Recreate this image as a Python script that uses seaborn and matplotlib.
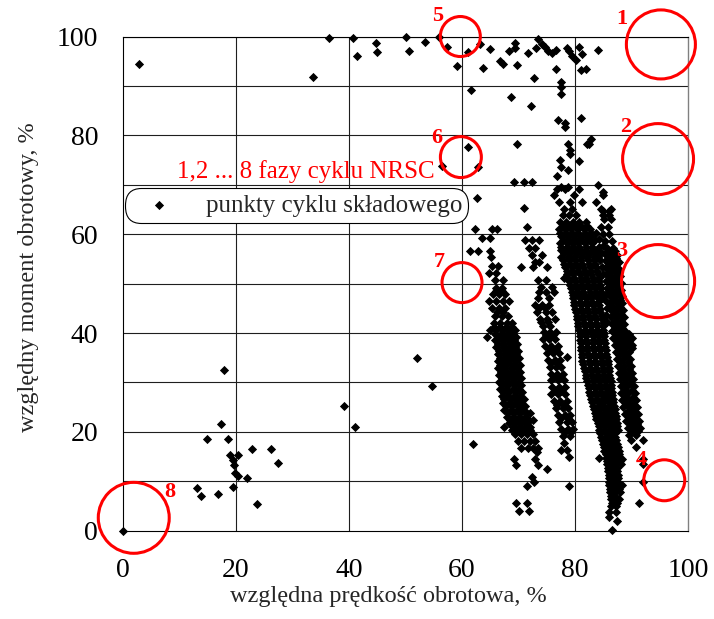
import matplotlib
matplotlib.use("Agg")
import matplotlib.pyplot as plt
import pandas as pd
import seaborn as sns

# ---------------- data (x = speed %, y = torque %) ----------------
upper_x = [2.8, 33.7, 36.4, 40.7, 41.5, 44.7, 45.0, 50.0, 50.7, 53.4, 56.0, 57.3, 59.2, 61.0,
           63.1, 63.7, 65.0, 66.8, 67.2, 68.3, 69.3, 69.4, 69.8, 71.7, 73.1, 73.5, 74.2, 74.7,
           75.3, 75.9, 76.7, 76.7, 78.5, 78.9, 79.5, 80.1, 80.7, 81.3, 81.0, 81.9, 84.0, 72.7]
upper_y = [94.5, 91.8, 99.6, 99.8, 96.1, 98.7, 96.8, 100.0, 97.1, 98.9, 99.9, 97.8, 94.1, 96.8,
           98.4, 93.7, 97.4, 95.1, 94.5, 97.0, 98.6, 97.6, 94.3, 96.7, 97.6, 99.5, 98.5, 97.8,
           97.1, 96.6, 97.3, 93.4, 97.7, 97.0, 96.1, 95.3, 97.9, 96.5, 93.3, 93.4, 97.2, 91.6]

mid_x = [61.6, 68.6, 72.2, 77.6, 77.6, 77.5, 77.0, 78.2, 78.3, 81.0, 69.8, 61.0, 62.8, 56.4,
         78.8, 79.1, 79.2, 77.3, 77.6, 78.8, 76.9, 80.7, 82.2, 82.8, 82.5, 69.2, 70.9, 72.4,
         77.6, 78.8, 84.0, 62.6, 70.9, 52.1, 54.7, 39.2, 41.1, 61.9, 78.9]
mid_y = [89.2, 87.8, 85.9, 90.7, 89.7, 88.3, 83.2, 82.6, 81.7, 83.6, 78.3, 77.6, 73.6, 73.7,
         78.3, 77.1, 76.3, 75.1, 73.6, 72.9, 71.7, 74.9, 78.3, 79.2, 78.2, 70.5, 70.5, 70.5,
         69.6, 69.6, 69.9, 67.3, 65.3, 35.0, 29.2, 25.2, 21.0, 17.6, 9.1]

low_x = [0.0, 13.1, 13.8, 14.8, 16.8, 17.4, 17.9, 18.6, 18.9, 19.5, 19.5, 19.6, 19.8, 20.3,
         20.3, 21.9, 22.9, 23.7, 26.2, 27.5]
low_y = [0.0, 8.6, 7.0, 18.6, 7.4, 21.5, 32.5, 18.6, 15.4, 14.2, 8.9, 13.2, 11.6, 15.3,
         11.0, 10.7, 16.5, 5.4, 16.5, 13.7]

# dense bands: rows of (torque, [speeds])
band_a = [
    (61.0, [62.3, 65.3, 66.2]), (59.2, [63.6, 65.0]), (56.6, [61.4, 62.9, 65.0]),
    (55.3, [65.2]), (53.6, [65.3, 66.4]), (52.2, [64.7, 66.0]), (50.7, [65.9, 67.3]),
    (49.2, [66.0, 67.0]), (48.5, [66.1, 67.1]), (47.8, [65.5, 66.6, 67.6]),
    (46.5, [64.8, 66.0, 67.2, 68.3]), (45.0, [65.3, 66.5, 67.6]), (44.2, [66.2, 67.3]),
    (43.5, [65.8, 67.0, 68.1]), (42.0, [65.6, 66.8, 67.9, 68.9]),
    (41.3, [65.6, 66.7, 67.8, 68.8]), (40.6, [65.0, 66.1, 67.2, 68.3, 69.3]),
    (39.9, [65.8, 66.9, 68.0, 69.0]), (39.2, [64.4, 66.3, 67.4, 68.5, 69.6]),
    (38.5, [65.9, 67.0, 68.1, 69.2]), (37.8, [66.4, 67.5, 68.6, 69.8]),
    (37.1, [66.1, 67.2, 68.3, 69.4]), (36.4, [66.6, 67.7, 68.8, 69.9]),
    (35.7, [66.3, 67.4, 68.5, 69.6]), (35.0, [66.8, 67.9, 69.0, 70.1]),
    (34.3, [66.3, 67.3, 68.4, 69.6]), (33.6, [66.7, 67.8, 69.0, 70.2]),
    (32.9, [66.4, 67.5, 68.6, 69.7]), (32.2, [66.9, 68.0, 69.1, 70.3]),
    (31.5, [66.5, 67.6, 68.7, 69.8]), (30.8, [67.0, 68.1, 69.3, 70.4]),
    (30.1, [66.6, 67.7, 68.8, 70.0]), (29.4, [67.1, 68.2, 69.4, 70.5]),
    (28.7, [66.7, 67.8, 69.0, 70.1]), (28.0, [67.3, 68.4, 69.6, 70.7]),
    (27.3, [67.0, 68.0, 69.2, 70.3]), (26.6, [67.5, 68.6, 69.8, 70.9]),
    (25.9, [67.2, 68.3, 69.4, 70.5]), (25.2, [67.8, 68.9, 70.0, 71.2]),
    (24.5, [67.5, 68.6, 69.7, 70.8]), (23.8, [68.1, 69.2, 70.3, 71.5, 72.1]),
    (23.1, [67.9, 69.0, 70.1, 71.2]), (22.4, [68.5, 69.6, 70.7, 71.8, 72.5]),
    (21.7, [68.4, 69.4, 70.5, 71.5]), (21.0, [67.4, 69.0, 70.1, 71.1, 72.1]),
    (20.3, [68.8, 69.9, 71.0, 72.0]), (19.6, [69.4, 70.5, 71.5, 72.6]),
    (18.2, [69.9, 71.0, 72.0, 73.0]), (16.8, [70.4, 71.6, 72.6, 73.4]), (16.0, [73.3]),
    (14.5, [69.2, 73.0]), (13.3, [69.5, 73.4]), (12.5, [75.1]), (10.8, [72.4]),
    (9.8, [72.7]), (9.1, [71.5]), (5.7, [69.5, 71.5]), (4.0, [70.0, 71.8]),
]

band_b = [
    (61.5, [71.5]), (58.8, [71.2, 72.4, 73.6]), (57.2, [71.8, 73.0]), (55.8, [72.4, 74.2]),
    (54.4, [73.0, 73.6]), (53.4, [70.4, 72.5, 75.1]), (51.1, [78.1]), (50.7, [73.5, 74.8]),
    (49.4, [74.0, 76.0]), (48.2, [73.6, 74.8, 76.3]), (47.0, [73.4, 75.4]),
    (45.6, [73.0, 74.2, 75.4]), (45.0, [73.6, 74.7]), (44.3, [73.2, 74.8, 76.0]),
    (42.9, [73.8, 75.0, 76.4]), (42.2, [74.0, 75.2]), (41.5, [74.3, 75.5]),
    (40.2, [74.5, 75.6, 76.7]), (39.5, [74.9, 76.1]), (38.8, [74.3, 75.4, 76.5]),
    (37.4, [74.6, 75.7, 77.0]), (36.7, [75.5, 76.6]), (36.0, [75.0, 76.1, 77.2]),
    (35.2, [78.6]), (34.6, [75.2, 76.4, 77.3]), (33.9, [75.8, 76.9]),
    (33.2, [75.5, 76.6, 77.6]), (31.8, [75.7, 76.9, 77.8]), (31.1, [76.2, 77.4]),
    (30.4, [75.8, 77.0, 78.0]), (29.0, [76.0, 77.2, 78.2]), (28.3, [76.5, 77.6]),
    (27.6, [75.8, 77.0, 78.3]), (26.2, [76.2, 77.4, 78.5]), (25.5, [76.9, 78.0]),
    (24.8, [76.6, 77.8, 78.8]), (23.4, [77.0, 78.2, 79.2]), (22.7, [77.6, 78.7]),
    (22.0, [77.2, 78.5, 79.5]), (20.6, [77.6, 78.8, 79.7]), (19.9, [78.2, 79.3]),
    (19.2, [77.9, 79.1]), (17.8, [78.1]), (16.4, [77.5, 78.5]), (14.9, [78.9]),
]

band_c = [
    (69.2, [76.9, 78.3, 80.7]), (68.0, [76.2, 79.8, 84.9]), (66.6, [77.2, 79.2, 81.3, 83.7]),
    (65.0, [78.0, 79.5, 84.6, 86.4]), (63.8, [77.8, 79.0, 80.2, 85.0, 86.1]),
    (62.5, [77.3, 78.4, 79.6, 80.7, 81.9]), (61.7, [77.8, 78.9, 80.0, 81.1, 82.2]),
    (61.0, [77.2, 78.3, 79.3, 80.5, 81.6, 82.6]),
    (60.3, [77.4, 78.4, 79.5, 80.6, 81.7, 82.8, 83.8]),
    (59.6, [77.5, 78.6, 79.7, 80.8, 81.9, 82.9]), (58.9, [77.9, 79.0, 80.1, 81.2, 82.4, 83.5]),
    (58.2, [77.4, 78.5, 79.5, 80.6, 81.8, 83.0]),
    (57.5, [77.5, 78.6, 79.6, 80.7, 81.9, 83.0, 84.3]),
    (56.8, [77.6, 78.7, 79.8, 80.9, 82.0, 83.1, 84.0]),
    (56.1, [78.0, 79.2, 80.4, 81.5, 82.6, 83.7, 84.6]),
    (55.4, [77.5, 78.8, 79.9, 81.0, 82.2, 83.3, 84.1]),
    (54.7, [77.8, 78.9, 80.0, 81.1, 82.3, 83.4, 84.4]),
    (54.0, [78.0, 79.1, 80.2, 81.3, 82.4, 83.5]),
    (53.3, [78.3, 79.4, 80.5, 81.5, 82.6, 83.7, 84.7]),
    (52.6, [78.5, 79.5, 80.6, 81.7, 82.8, 83.9]),
    (51.9, [78.6, 79.7, 80.8, 81.9, 82.9, 84.0, 84.9]),
    (51.2, [78.8, 79.9, 81.0, 82.0, 83.1, 84.2]), (50.5, [79.0, 80.0, 81.1, 82.1, 83.2, 84.3]),
    (49.8, [79.1, 80.2, 81.2, 82.3, 83.4, 84.4]), (49.1, [79.3, 80.3, 81.4, 82.4, 83.5, 84.6]),
    (48.4, [79.5, 80.5, 81.5, 82.6, 83.7, 84.6]), (47.7, [79.6, 80.6, 81.6, 82.7, 83.8, 84.9]),
    (47.0, [79.7, 80.8, 81.9, 82.9, 84.0, 84.8]), (46.3, [79.8, 80.9, 82.0, 83.0, 84.1]),
    (45.6, [79.9, 81.0, 82.1, 83.1, 84.2]), (44.9, [80.0, 81.1, 82.2, 83.3, 84.4]),
    (44.2, [80.2, 81.2, 82.3, 83.4, 84.5]), (43.5, [80.3, 81.4, 82.5, 83.6, 84.7]),
    (42.8, [80.4, 81.5, 82.6, 83.7, 84.8]), (42.1, [80.5, 81.6, 82.7, 83.8, 84.9]),
    (41.4, [80.6, 81.7, 82.8, 83.9, 85.0]), (40.7, [80.7, 81.8, 82.9, 83.9, 85.0]),
    (40.0, [80.8, 81.9, 83.0, 84.0, 85.1]), (39.3, [80.9, 82.0, 83.1, 84.1, 85.2]),
    (38.6, [80.9, 82.0, 83.1, 84.2, 85.2]), (37.9, [81.0, 82.1, 83.2, 84.3, 85.3]),
    (37.2, [81.0, 82.1, 83.2, 84.3, 85.3]), (36.5, [81.1, 82.2, 83.3, 84.4, 85.4]),
    (35.8, [81.2, 82.3, 83.4, 84.5, 85.5]), (35.1, [81.3, 82.4, 83.5, 84.6, 85.6]),
    (34.4, [81.3, 82.4, 83.5, 84.7, 85.8]), (33.7, [81.5, 82.6, 83.7, 84.8, 85.9]),
    (33.0, [81.6, 82.7, 83.8, 84.9, 86.0]), (32.3, [81.7, 82.8, 83.9, 85.0, 86.0]),
    (31.6, [81.9, 83.0, 84.0, 85.1, 86.1]), (30.9, [82.0, 83.1, 84.1, 85.2, 86.2]),
    (30.2, [82.2, 83.2, 84.3, 85.3, 86.3]), (29.5, [82.3, 83.4, 84.4, 85.4, 86.3]),
    (28.8, [82.4, 83.5, 84.5, 85.5, 86.4]), (28.1, [82.5, 83.6, 84.6, 85.6, 86.5]),
    (27.4, [82.6, 83.7, 84.7, 85.7, 86.6]), (26.7, [82.8, 83.9, 84.9, 85.9, 86.7]),
    (26.0, [83.0, 84.0, 85.0, 86.0, 86.8]), (25.3, [83.2, 84.2, 85.1, 86.1, 86.9]),
    (24.6, [83.3, 84.3, 85.2, 86.2, 87.0]), (23.9, [83.5, 84.5, 85.4, 86.3, 87.1]),
    (23.2, [83.7, 84.6, 85.5, 86.4, 87.2]), (22.5, [83.8, 84.8, 85.7, 86.6, 87.3]),
    (21.8, [84.0, 84.9, 85.8, 86.7, 87.4]), (21.1, [84.2, 85.1, 86.0, 86.8, 87.5]),
    (20.4, [84.3, 85.2, 86.0, 86.9, 87.6]), (19.7, [84.5, 85.4, 86.2, 87.0]),
    (19.0, [84.6, 85.5, 86.3, 87.1]), (18.3, [84.8, 85.7, 86.5, 87.3]),
    (17.6, [84.9, 85.8, 86.6, 87.4]), (16.9, [85.1, 86.0, 86.8, 87.6]),
    (16.2, [85.2, 86.1, 86.9, 87.7]), (15.5, [85.4, 86.2, 87.0, 87.8]),
    (14.8, [84.3, 85.5, 86.3, 87.1, 88.0]), (14.1, [85.6, 86.4, 87.2, 88.0]),
    (13.4, [85.7, 86.5, 87.3, 88.2]), (12.7, [85.8, 86.6, 87.4]),
    (12.0, [85.9, 86.7, 87.5]), (11.3, [86.0, 86.8, 87.6]), (10.6, [86.0, 86.8, 87.6]),
    (9.9, [86.1, 86.9, 87.6]), (9.2, [86.1, 86.9, 87.7, 88.4]), (8.5, [86.2, 87.0, 87.8]),
    (7.8, [86.2, 87.0, 88.0]), (7.1, [86.3, 87.1]), (6.4, [86.3, 87.1, 87.8]),
    (5.7, [86.5, 87.4]), (5.0, [86.3, 87.2]), (3.7, [86.1, 87.2]), (2.7, [86.1]),
    (2.0, [87.4]), (0.2, [86.5]),
]

# points joining bands C and D in the upper part
band_cd = [
    (59.0, [84.3]), (57.6, [85.0]), (56.2, [85.3]), (54.8, [85.4]), (53.4, [85.5]),
    (52.0, [85.6]), (50.6, [85.5]), (49.2, [85.6]), (47.8, [85.5]), (46.4, [85.4]),
    (45.0, [85.6]), (43.6, [85.5]), (42.2, [85.7]),
]

band_d = [
    (68.6, [84.9]), (64.6, [84.9, 86.1]), (63.0, [85.2, 86.4]), (61.5, [84.6, 85.8]),
    (60.0, [85.0, 86.1]), (58.6, [85.3, 86.5]), (57.2, [85.6, 86.8]), (56.5, [86.0, 87.1]),
    (55.8, [85.4, 86.5, 87.5]), (55.1, [86.1, 87.2]), (54.4, [85.6, 86.7, 87.7]),
    (53.7, [86.3, 87.3]), (53.0, [85.7, 86.9, 87.8]), (52.3, [86.4, 87.5]),
    (51.6, [85.9, 87.0, 88.0]), (50.9, [86.5, 87.6]), (50.2, [86.0, 87.1, 88.1]),
    (49.5, [86.6, 87.7]), (48.8, [86.1, 87.2, 88.2]), (48.1, [86.7, 87.8]),
    (47.4, [86.2, 87.3, 88.3]), (46.7, [86.8, 87.9]), (46.0, [86.2, 87.4, 88.4]),
    (45.3, [86.8, 88.0]), (44.6, [86.3, 87.5, 88.5]), (43.9, [86.9, 88.1]),
    (43.2, [86.4, 87.5, 88.6]), (42.5, [87.0, 88.2]), (41.8, [86.5, 87.6, 88.7]),
    (41.1, [87.1, 88.3]), (40.4, [86.6, 87.7, 88.9]), (39.7, [87.3, 88.5, 89.5]),
    (39.0, [86.8, 87.9, 89.0, 90.0]), (38.3, [87.5, 88.6, 89.6]),
    (37.6, [87.0, 88.1, 89.2, 90.1]), (36.9, [87.7, 88.9, 90.0]),
    (36.2, [87.2, 88.3, 89.5]), (35.5, [87.8, 89.1]), (34.8, [87.4, 88.5, 89.7]),
    (34.1, [88.0, 89.3]), (33.4, [87.6, 88.7, 89.9]), (32.7, [88.2, 89.5]),
    (32.0, [87.8, 88.9, 90.0]), (31.3, [88.5, 89.6]), (30.6, [88.0, 89.1, 90.2]),
    (29.9, [88.6, 89.8]), (29.2, [88.1, 89.2, 90.4]), (28.5, [88.8, 90.0]),
    (27.8, [88.2, 89.4, 90.6]), (27.1, [88.9, 90.2]), (26.4, [88.3, 89.5, 90.8]),
    (25.7, [89.1, 90.3]), (25.0, [88.5, 89.7, 90.9]), (24.3, [89.3, 90.5]),
    (23.6, [88.8, 89.9, 91.1]), (22.9, [89.6, 90.7]), (22.2, [89.1, 90.2, 91.3]),
    (21.5, [89.8, 90.9]), (20.8, [89.3, 90.4, 91.5]), (20.1, [90.0, 91.2]),
    (19.4, [89.6, 90.8]), (18.3, [89.9, 92.0]), (16.9, [90.8]), (14.5, [88.4, 92.0]),
    (13.5, [92.0]), (9.8, [92.0]), (5.7, [91.3]),
]

# NRSC cycle phases (circle centres) and their numbers
phase_labels = ["1", "2", "3", "4", "5", "6", "7", "8"]
phase_x = [95.2, 94.7, 94.7, 95.8, 59.7, 59.8, 60.0, 1.9]
phase_y = [98.4, 75.2, 50.5, 10.2, 100.0, 75.6, 50.2, 2.6]

legend_label = "punkty cyklu składowego"
note_text = "1,2 ... 8 fazy cyklu NRSC"
x_label = "względna prędkość obrotowa, %"
y_label = "względny moment obrotowy, %"
x_ticks = [0, 20, 40, 60, 80, 100]
y_ticks = [0, 20, 40, 60, 80, 100]
y_minor = [10, 30, 50, 70, 90]

# ---------------- assemble ----------------
xs, ys = [], []
xs += upper_x + mid_x + low_x
ys += upper_y + mid_y + low_y
for band in (band_a, band_b, band_c, band_cd, band_d):
    for yv, row in band:
        xs += row
        ys += [yv] * len(row)
df = pd.DataFrame({"speed": xs, "torque": ys})
phases = pd.DataFrame({"x": phase_x, "y": phase_y, "lab": phase_labels})

sns.set_style("white")
plt.rcParams["font.family"] = ["Liberation Serif", "DejaVu Serif"]

fig = plt.figure(figsize=(7.14, 6.19), dpi=100)
ax = fig.add_axes([0.1723, 0.1427, 0.7913, 0.7983])

sns.scatterplot(data=df, x="speed", y="torque", marker="D", color="black", s=22,
                linewidth=0, ax=ax, label=legend_label, clip_on=False, zorder=3)

# red phase circles (sizes in points^2, style only)
circle_sizes = [2470, 2610, 2770, 870, 830, 870, 830, 2610]
ax.scatter(phases["x"], phases["y"], s=circle_sizes, facecolors="none",
           edgecolors="#ff0000", linewidths=2.2, clip_on=False, zorder=4)
label_offsets = [(-28, 18), (-23, 23), (-26, 22), (-16.5, 14.5),
                 (-16, 15), (-17, 14), (-16.5, 14.5), (26, 18.5)]
for (px, py, lab), off in zip(phases[["x", "y", "lab"]].values, label_offsets):
    ax.annotate(lab, (px, py), xytext=off, textcoords="offset points",
                ha="center", va="center", color="#ff0000", fontsize=16,
                fontweight="bold", annotation_clip=False, zorder=5)

ax.text(9.6, 71.4, note_text, color="#ff0000", fontsize=18, ha="left", va="baseline",
        zorder=5)

ax.set_xlim(0, 100)
ax.set_ylim(0, 100)
ax.set_xticks(x_ticks)
ax.set_yticks(y_ticks)
ax.set_yticks(y_minor, minor=True)
ax.tick_params(axis="x", which="major", direction="out", length=5, width=0.8,
               labelsize=20, pad=15, colors="black")
ax.tick_params(axis="y", which="both", direction="out", length=5, width=0.8,
               labelsize=20, pad=13, colors="black")
ax.set_axisbelow(True)
ax.grid(True, which="major", axis="both", color="#1e1e1e", linewidth=0.8)
ax.grid(True, which="minor", axis="y", color="#1e1e1e", linewidth=0.8)
for gl in (ax.xaxis.get_gridlines()[0], ax.xaxis.get_gridlines()[-1],
           ax.yaxis.get_gridlines()[0]):
    gl.set_visible(False)
for side in ("left", "bottom", "top"):
    ax.spines[side].set_color("black")
    ax.spines[side].set_linewidth(0.8)
ax.spines["right"].set_color("#808080")
ax.spines["right"].set_linewidth(1.0)

ax.set_xlabel(x_label, fontsize=17.5)
ax.xaxis.set_label_coords(0.469, -0.112)
ax.set_ylabel(y_label, fontsize=17.5)
ax.yaxis.set_label_coords(-0.148, 0.513)

leg = ax.legend(loc="upper left", bbox_to_anchor=(0.0035, 0.693), borderaxespad=0,
                fontsize=18, frameon=True, fancybox=True, borderpad=0.24,
                handlelength=2.24, handletextpad=0.76, framealpha=1)
frame = leg.get_frame()
frame.set_boxstyle("round", pad=0, rounding_size=0.66)
frame.set_edgecolor("black")
frame.set_linewidth(0.8)
frame.set_facecolor("white")

fig.savefig("out.png", dpi=100)
